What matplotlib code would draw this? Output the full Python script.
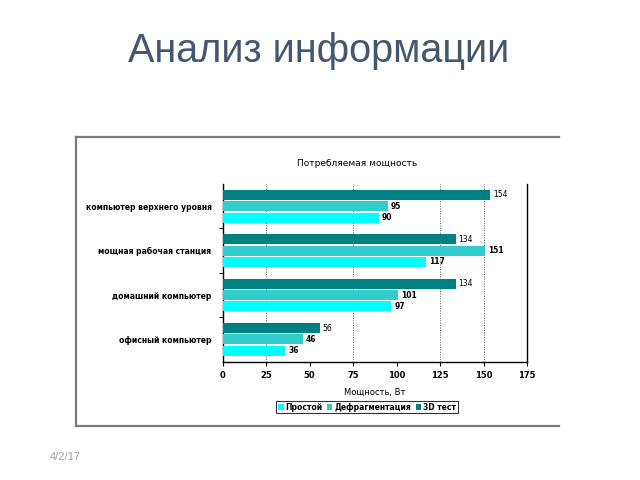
import matplotlib
matplotlib.use("Agg")
import matplotlib.pyplot as plt
from matplotlib.lines import Line2D
import numpy as np

categories = ["компьютер верхнего уровня", "мощная рабочая станция",
              "домашний компьютер", "офисный компьютер"]
series_names = ["3D тест", "Дефрагментация", "Простой"]
test3d = [154, 134, 134, 56]
defrag = [95, 151, 101, 46]
idle = [90, 117, 97, 36]
x_ticks = [0, 25, 50, 75, 100, 125, 150, 175]
grid_at = [25, 75, 125, 150]

colors = {"3D тест": "#008080", "Дефрагментация": "#33CCCC", "Простой": "#00FFFF"}
values = {"3D тест": test3d, "Дефрагментация": defrag, "Простой": idle}

fig = plt.figure(figsize=(6.4, 4.8), dpi=100)
fig.patch.set_facecolor("white")

# slide title
fig.text(319/640, 1-51/480, "Анализ информации", ha="center", va="center",
         fontsize=28.5, color="#475670", family="Liberation Sans")
fig.text(50/640, 1-457/480, "4/2/17", ha="left", va="center",
         fontsize=8, color="#a0a0a0", family="Liberation Sans")

# frame of embedded chart
fc = "#7a7a7a"
L, R, T, B = 75.5/640, 559/640, 1-137/480, 1-425.5/480
fig.add_artist(Line2D([L, L], [B, T], color=fc, lw=1.6, transform=fig.transFigure))
fig.add_artist(Line2D([L, R], [T, T], color=fc, lw=1.6, transform=fig.transFigure))
fig.add_artist(Line2D([L, R], [B, B], color=fc, lw=1.6, transform=fig.transFigure))

fig.text(357/640, 1-164/480, "Потребляемая мощность", ha="center", va="center",
         fontsize=6.5, color="black", family="DejaVu Sans")

ax = fig.add_axes([222.7/640, 1-361.7/480, (527-222.7)/640, (361.7-184)/480])
ax.set_facecolor("white")

y = np.arange(len(categories))
pitch = 0.255
h = 0.225
handles = {}
for k, name in enumerate(series_names):
    pos = y + (k - 1) * pitch
    bars = ax.barh(pos, values[name], height=h, color=colors[name], zorder=3)
    handles[name] = bars
    ax.bar_label(bars, padding=2, fontsize=5.5,
                 fontweight="bold" if name != "3D тест" else "normal",
                 family="DejaVu Sans")

ax.set_xlim(0, 175)
ax.set_ylim(len(categories) - 0.5, -0.5)
ax.set_xticks(x_ticks)
ax.set_xticklabels([str(v) for v in x_ticks], fontsize=6, fontweight="bold")
ax.set_yticks(y)
ax.set_yticklabels(categories, fontsize=5.5, fontweight="bold")
ax.tick_params(axis="y", length=0, pad=8)
ax.set_yticks(np.arange(1, len(categories)) - 0.5, minor=True)
ax.tick_params(axis="y", which="minor", length=3, width=0.8)
ax.tick_params(axis="x", length=3, width=0.8, pad=4)

for g in grid_at:
    ax.axvline(g, color="#555555", lw=0.7, ls=(0, (1, 1.5)), zorder=1)

ax.spines["top"].set_visible(False)
for s in ("left", "bottom", "right"):
    ax.spines[s].set_linewidth(1.0)
    ax.spines[s].set_color("black")

ax.set_xlabel("Мощность, Вт", fontsize=6, labelpad=5)

order = ["Простой", "Дефрагментация", "3D тест"]
leg = fig.legend([handles[n] for n in order], order, loc="center",
                 bbox_to_anchor=(367/640, 1-407/480), ncol=3, frameon=True,
                 fancybox=False, edgecolor="black",
                 prop={"weight": "bold", "size": 5.5},
                 handlelength=0.7, handleheight=0.7, columnspacing=0.6,
                 handletextpad=0.25, borderpad=0.25, borderaxespad=0)
leg.get_frame().set_linewidth(0.8)

fig.savefig("out.png", dpi=100, facecolor="white")
